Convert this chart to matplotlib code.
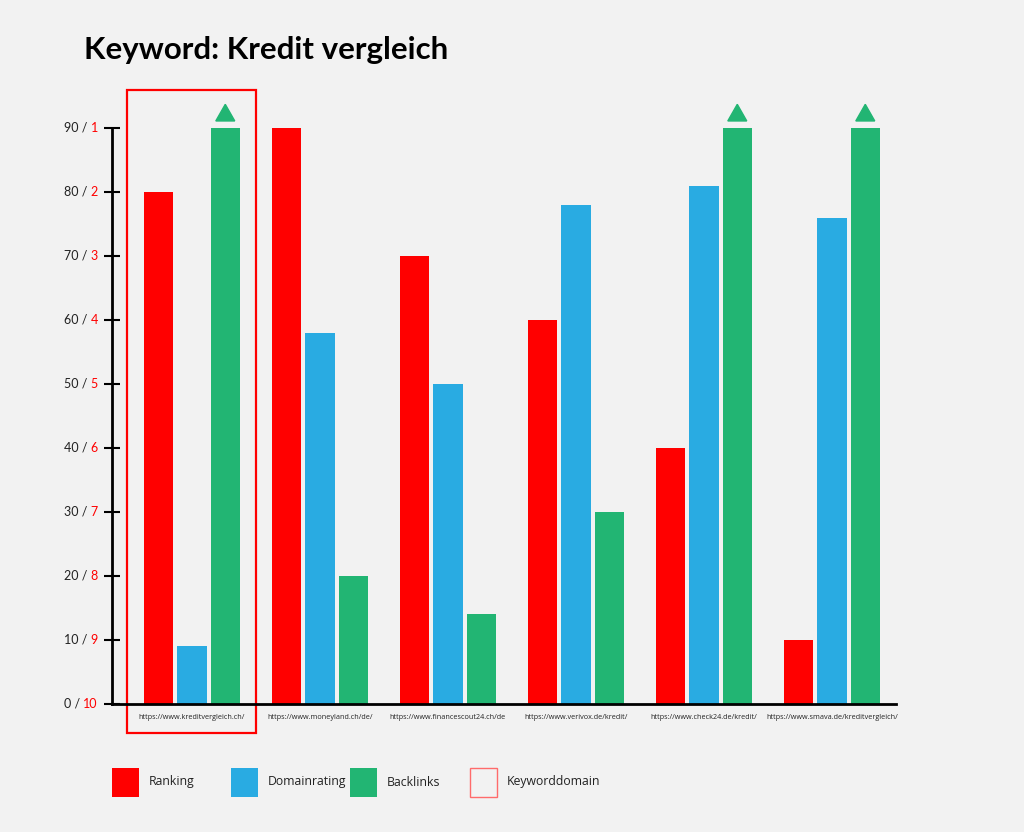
import numpy as np
import matplotlib.pyplot as plt
from matplotlib.patches import Rectangle, Polygon

# data
sites = ['https://www.kreditvergleich.ch/', 'https://www.moneyland.ch/de/',
         'https://www.financescout24.ch/de', 'https://www.verivox.de/kredit/',
         'https://www.check24.de/kredit/', 'https://www.smava.de/kreditvergleich/']
ranking = [80, 90, 70, 60, 40, 10]
domainrating = [9, 58, 50, 78, 81, 76]
backlinks = [90, 20, 14, 30, 90, 90]
ytick_vals = [0, 10, 20, 30, 40, 50, 60, 70, 80, 90]
ytick_ranks = ['10', '9', '8', '7', '6', '5', '4', '3', '2', '1']
series_names = ['Ranking', 'Domainrating', 'Backlinks', 'Keyworddomain']

RED = '#ff0000'
BLUE = '#29abe2'
GREEN = '#22b573'
BG = '#f2f2f2'

fig = plt.figure(figsize=(10.24, 8.32), dpi=100, facecolor=BG)
ax = fig.add_axes([112/1024, 1 - 704/832, 784/1024, 576/832])
ax.set_facecolor(BG)

x = np.arange(len(sites))
w = 0.228
off = 0.26
ax.bar(x - off, ranking, w, color=RED)
ax.bar(x, domainrating, w, color=BLUE)
ax.bar(x + off, backlinks, w, color=GREEN)

ax.set_xlim(-0.625, 5.5)
ax.set_ylim(0, 90)

# arrows on bars that hit the top
for xi, v in zip(x, backlinks):
    if v >= 90:
        tri = Polygon([[xi + off - 0.074, 91.1], [xi + off + 0.074, 91.1], [xi + off, 93.7]],
                      closed=True, color=GREEN, clip_on=False)
        ax.add_patch(tri)

# keyword domain box
ax.add_patch(Rectangle((-0.508, -4.55), 1.008, 100.5, fill=False, edgecolor=RED,
                       linewidth=1.6, clip_on=False))

for s in ['top', 'right']:
    ax.spines[s].set_visible(False)
ax.spines['left'].set_linewidth(2)
ax.spines['bottom'].set_linewidth(2)

ax.set_yticks(ytick_vals)
ax.set_yticklabels([])
ax.tick_params(axis='y', direction='inout', length=12, width=1.5)
ax.set_xticks(x)
ax.set_xticklabels(sites, fontsize=5.2, family='Open Sans', color='#222222')
ax.tick_params(axis='x', length=0, pad=7)

# two-coloured y labels
fig.canvas.draw()
r = fig.canvas.get_renderer()
for v, rk in zip(ytick_vals, ytick_ranks):
    yp = fig.transFigure.inverted().transform(ax.transData.transform((0, v)))[1]
    t = fig.text(64/1024, yp, f'{v} / ', fontsize=9, family='Lato', color='#222222',
                 va='center', ha='left')
    bb = t.get_window_extent(renderer=r)
    fig.text(bb.x1 / 1024, yp, rk, fontsize=9, family='Lato', color=RED,
             va='center', ha='left')

fig.text(84/1024, 1 - 50/832, 'Keyword: Kredit vergleich', fontsize=22.5, fontweight='bold',
         family='Lato', color='black', va='center', ha='left')

# legend
leg_x = [112, 231, 350, 470]
leg_colors = [RED, BLUE, GREEN, None]
for lx, c, name in zip(leg_x, leg_colors, series_names):
    if c is None:
        p = Rectangle((lx/1024, 1 - 797/832), 27/1024, 29/832, transform=fig.transFigure,
                      fill=False, edgecolor='#ff6b6b', linewidth=1)
    else:
        p = Rectangle((lx/1024, 1 - 797/832), 27/1024, 29/832, transform=fig.transFigure,
                      facecolor=c, edgecolor='none')
    fig.patches.append(p)
    fig.text((lx + 37)/1024, 1 - 782/832, name, fontsize=8.8, family='Open Sans',
             color='#222222', va='center', ha='left')

fig.savefig('out.png', dpi=100, facecolor=BG)
